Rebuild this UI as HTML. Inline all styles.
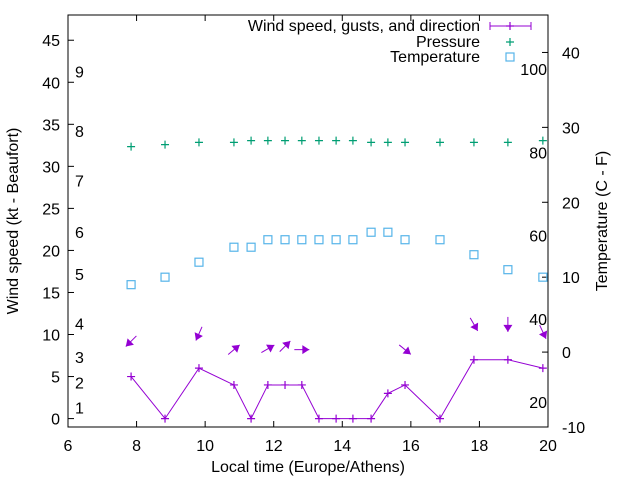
<!DOCTYPE html>
<html><head><meta charset="utf-8"><style>
body{margin:0;background:#fff}
svg{display:block;font-family:"Liberation Sans",sans-serif}
</style></head><body>
<svg id="chart" width="640" height="480"></svg>
<script>
const times=[7.84,8.83,9.82,10.84,11.34,11.83,12.33,12.82,13.32,13.82,14.31,14.84,15.33,15.83,16.85,17.84,18.83,19.85];
const windSpeed=[5,0,6,4,0,4,4,4,0,0,0,0,3,4,0,7,7,6];
const pressure=[27.43,27.7,28.0,28.0,28.23,28.23,28.23,28.23,28.23,28.23,28.23,28.0,28.0,28.0,28.0,28.0,28.0,28.23];
const temperature=[9,10,12,14,14,15,15,15,15,15,15,16,16,15,15,13,11,10];
const arrowTimes=[7.84,9.82,10.84,11.83,12.33,12.82,15.83,17.84,18.83,19.85];
const arrowSpeed=[9.2,10.1,8.2,8.3,8.6,8.2,8.2,11.2,11.2,10.3];
const arrowDir=[135,114,-40,-30,-45,0,39,60,90,65];
const xTicks=[6,8,10,12,14,16,18,20];
const yTicks=[0,5,10,15,20,25,30,35,40,45];
const y2Ticks=[-10,0,10,20,30,40];
const fTicks=[20,40,60,80,100];
const beaufort=[1,2,3,4,5,6,7,8,9];
const beaufortPos=[1.3,4.3,7.3,11.3,17.2,22.2,28.3,34.2,41.3];

const L=68,R=548,T=15,B=427,FS=16;
const X=t=>L+(t-6)*(R-L)/14;
const Y=v=>B-(v+1)*(B-T)/49;
const Y2=c=>B-(c+10)*(B-T)/55;
const svg=document.getElementById('chart');
const NS='http://www.w3.org/2000/svg';
function mk(tag,attrs,parent){const e=document.createElementNS(NS,tag);for(const k in attrs)e.setAttribute(k,attrs[k]);(parent||svg).appendChild(e);return e;}
function txt(s,x,y,anchor,size,parent){const e=mk('text',{x:x,y:y,'text-anchor':anchor,'font-size':size||FS,fill:'#000'},parent);e.textContent=s;return e;}

const axes=mk('g',{});


mk('rect',{x:L,y:T,width:R-L,height:B-T,fill:'none',stroke:'#000','stroke-width':1},axes);
xTicks.forEach(t=>{const x=X(t);
 mk('line',{x1:x,y1:B,x2:x,y2:B-6,stroke:'#000'},axes);
 mk('line',{x1:x,y1:T,x2:x,y2:T+6,stroke:'#000'},axes);
 const e=txt(String(t),x,451,'middle',FS,axes);
 
 });
yTicks.forEach(v=>{const y=Y(v);
 mk('line',{x1:L,y1:y,x2:L+6,y2:y,stroke:'#000'},axes);
 const e=txt(String(v),60,y+6,'end',FS,axes);
 
 });
y2Ticks.forEach(c=>{const y=Y2(c);
 mk('line',{x1:R,y1:y,x2:R-6,y2:y,stroke:'#000'},axes);
 const e=txt(String(c),562,y+6,'start',FS,axes);
 
 });
fTicks.forEach(f=>{const y=Y2((f-32)*5/9);
 const e=txt(String(f),547,y+6,'end',FS,axes);
 
 });
beaufort.forEach((b,i)=>{const e=txt(String(b),75,Y(beaufortPos[i])+6,'start',FS,axes);
 
 });
let e=txt('Local time (Europe/Athens)',308,472,'middle',FS);

e=txt('Wind speed (kt - Beaufort)',0,0,'middle',FS);
e.setAttribute('transform','translate(18,221) rotate(-90)');

e=txt('Temperature (C - F)',0,0,'middle',FS);
e.setAttribute('transform','translate(607,221) rotate(-90)');


const purple='#9400d3',green='#009e73',blue='#56b4e9';
const wg=mk('g',{});


mk('polyline',{points:times.map((t,i)=>X(t)+','+Y(windSpeed[i])).join(' '),fill:'none',stroke:purple,'stroke-width':1},wg);
function plus(x,y,c,g){mk('path',{d:`M${x-4},${y}h8M${x},${y-4}v8`,stroke:c,'stroke-width':1.2,fill:'none'},g);}
times.forEach((t,i)=>plus(X(t),Y(windSpeed[i]),purple,wg));
arrowTimes.forEach((t,i)=>{
 const cx=X(t),cy=Y(arrowSpeed[i]),a=arrowDir[i]*Math.PI/180,len=15;
 const dx=Math.cos(a),dy=Math.sin(a);
 const x1=cx-dx*len/2,y1=cy-dy*len/2,x2=cx+dx*len/2,y2=cy+dy*len/2;
 const g=mk('g',{},wg);
 
 
 mk('line',{x1:x1,y1:y1,x2:x2,y2:y2,stroke:purple,'stroke-width':1},g);
 const px=-dy,py=dx,h=7,w=4.5;
 mk('polygon',{points:`${x2},${y2} ${x2-dx*h+px*w},${y2-dy*h+py*w} ${x2-dx*h-px*w},${y2-dy*h-py*w}`,fill:purple},g);
});
const pg=mk('g',{});


times.forEach((t,i)=>plus(X(t),Y2(pressure[i]),green,pg));
const tg=mk('g',{});


times.forEach((t,i)=>mk('rect',{x:X(t)-4,y:Y2(temperature[i])-4,width:8,height:8,fill:'none',stroke:blue,'stroke-width':1.2},tg));
const lg=mk('g',{});


txt('Wind speed, gusts, and direction',480,31,'end',FS,lg);
txt('Pressure',480,47,'end',FS,lg);
txt('Temperature',480,62,'end',FS,lg);
mk('path',{d:'M490,26H531M490,22v8M531,22v8',stroke:purple,fill:'none'},lg);
plus(510,26,purple,lg);
plus(510,42,green,lg);
mk('rect',{x:506,y:53,width:8,height:8,fill:'none',stroke:blue,'stroke-width':1.2},lg);
</script>
</body></html>
